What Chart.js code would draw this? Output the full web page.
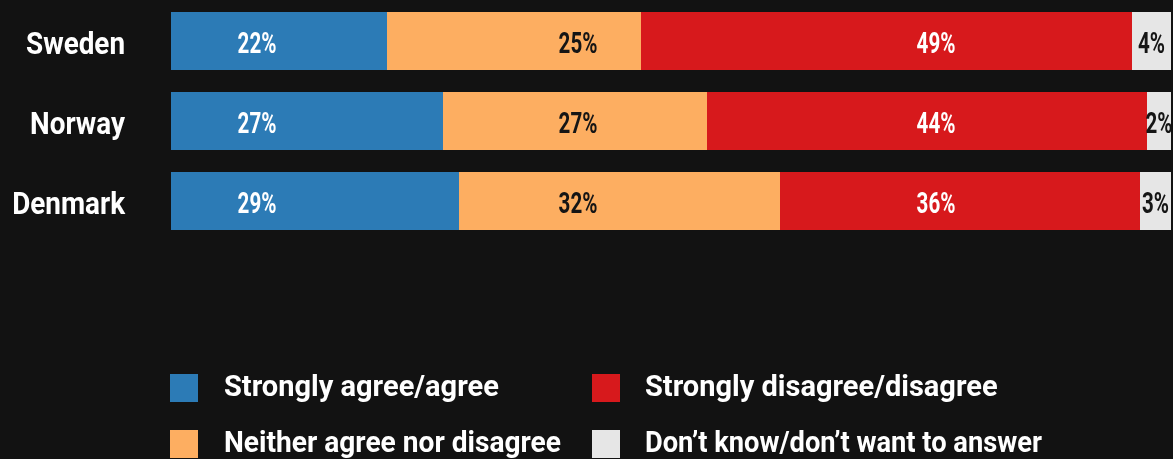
<!DOCTYPE html>
<html>
<head>
<meta charset="utf-8">
<script src="https://cdn.jsdelivr.net/npm/chart.js@4"></script>
<style>
  html, body { margin: 0; padding: 0; background: #121212; }
  #wrap { position: relative; width: 1173px; height: 459px; }
</style>
</head>
<body>
<div id="wrap"><canvas id="chart"></canvas></div>
<script>
const countries = ["Sweden", "Norway", "Denmark"];
const answers = [
    "Strongly agree/agree",
    "Neither agree nor disagree",
    "Strongly disagree/disagree",
    "Don\u2019t know/don\u2019t want to answer"
];
// bar lengths (% of respondents)
const agree = [21.6, 27.2, 28.8];
const neither = [25.4, 26.4, 32.1];
const disagree = [49.1, 44.0, 36.0];
const dontKnow = [3.9, 2.4, 3.1];
// percentages as printed on the bars
const agreeText = ["22%", "27%", "29%"];
const neitherText = ["25%", "27%", "32%"];
const disagreeText = ["49%", "44%", "36%"];
const dontKnowText = ["4%", "2%", "3%"];

const colors = ["#2c7bb6", "#fdae61", "#d7191c", "#e6e6e6"];
const textColors = ["#ffffff", "#151515", "#ffffff", "#151515"];

const series = [agree, neither, disagree, dontKnow];
const texts = [agreeText, neitherText, disagreeText, dontKnowText];

// draw text squeezed horizontally (the original uses a condensed face)
function squeezed(ctx, str, x, y, sx) {
    ctx.save();
    ctx.translate(x, y);
    ctx.scale(sx, 1);
    ctx.fillText(str, 0, 0);
    ctx.restore();
}

// country names, right aligned left of the bars
const countryLabels = {
    id: "countryLabels",
    afterDraw(chart) {
        const ctx = chart.ctx;
        const y = chart.scales.y;
        ctx.save();
        ctx.font = "bold 32px Roboto, sans-serif";
        ctx.textAlign = "right";
        ctx.textBaseline = "alphabetic";
        ctx.fillStyle = "#ffffff";
        y.ticks.forEach((t, i) => {
            squeezed(ctx, y.getLabelForValue(t.value), chart.chartArea.left - 46, y.getPixelForTick(i) + 13, 0.87);
        });
        ctx.restore();
    }
};

// value labels: first three sit at fixed spots on the scale, the last one is centred in its segment
const barLabels = {
    id: "barLabels",
    afterDatasetsDraw(chart) {
        const ctx = chart.ctx;
        const x = chart.scales.x;
        const anchors = [8.6, 40.7, 76.5, null];
        ctx.save();
        ctx.font = "bold 29px Roboto, sans-serif";
        ctx.textAlign = "center";
        ctx.textBaseline = "alphabetic";
        chart.data.datasets.forEach((ds, i) => {
            const meta = chart.getDatasetMeta(i);
            meta.data.forEach((bar, j) => {
                const cx = anchors[i] === null ? (bar.x + bar.base) / 2 : x.getPixelForValue(anchors[i]);
                ctx.fillStyle = textColors[i];
                squeezed(ctx, texts[i][j], cx, bar.y + 12, 0.71);
            });
        });
        ctx.restore();
    }
};

// two-column legend under the bars
const gridLegend = {
    id: "gridLegend",
    afterDraw(chart) {
        const ctx = chart.ctx;
        const area = chart.chartArea;
        const squeeze = [1, 0.97, 1, 0.94];
        ctx.save();
        ctx.font = "bold 29px Roboto, sans-serif";
        ctx.textBaseline = "middle";
        ctx.textAlign = "left";
        answers.forEach((label, i) => {
            const col = Math.floor(i / 2);
            const row = i % 2;
            const bx = area.left - 1 + col * 422;
            const cy = area.bottom + 147 + row * 56;
            ctx.fillStyle = colors[i];
            ctx.fillRect(bx, cy - 14, 28, 28);
            ctx.fillStyle = "#ffffff";
            squeezed(ctx, label, bx + 54 - col, cy + 1, squeeze[i]);
        });
        ctx.restore();
    }
};

new Chart(document.getElementById("chart"), {
    type: "bar",
    data: {
        labels: countries,
        datasets: answers.map((a, i) => ({
            label: a,
            data: series[i],
            backgroundColor: colors[i],
            borderWidth: 0,
            barPercentage: 0.725,
            categoryPercentage: 1
        }))
    },
    options: {
        indexAxis: "y",
        responsive: true,
        maintainAspectRatio: false,
        animation: false,
        layout: { padding: { top: 1, right: 2, bottom: 218, left: 0 } },
        plugins: {
            legend: { display: false },
            tooltip: { enabled: false }
        },
        scales: {
            x: {
                stacked: true,
                min: 0,
                max: 100,
                display: false
            },
            y: {
                stacked: true,
                grid: { display: false, drawTicks: false },
                border: { display: false },
                ticks: { display: false },
                afterFit(scale) {
                    scale.width = 171;
                    scale.paddingTop = 0;
                    scale.paddingBottom = 0;
                }
            }
        }
    },
    plugins: [barLabels, countryLabels, gridLegend]
});
</script>
</body>
</html>
